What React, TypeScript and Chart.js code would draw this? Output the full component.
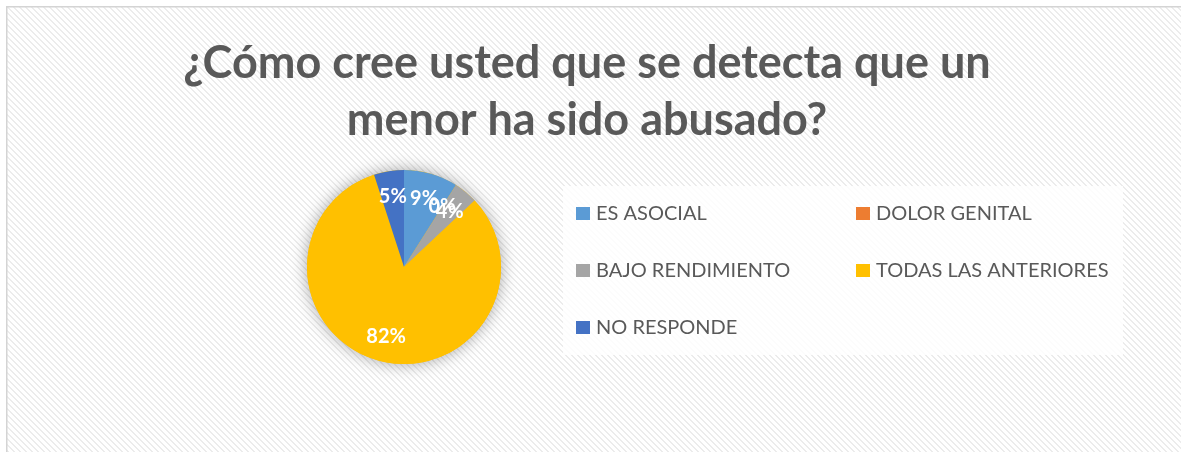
import React, { useEffect, useRef } from "react";
import { Chart, registerables } from "chart.js";

Chart.register(...registerables);

const TITLE_LINES = ["¿Cómo cree usted que se detecta que un", "menor ha sido abusado?"];
const CATEGORIES = ["ES ASOCIAL", "DOLOR GENITAL", "BAJO RENDIMIENTO", "TODAS LAS ANTERIORES", "NO RESPONDE"];
const VALUES = [9, 0, 4, 82, 5];
const COLORS = ["#5B9BD5", "#ED7D31", "#A5A5A5", "#FFC000", "#4472C4"];

const TEXT_COLOR = "#595959";

function makePattern(ctx: CanvasRenderingContext2D) {
  const c = document.createElement("canvas");
  const n = 6;
  c.width = n;
  c.height = n;
  const p = c.getContext("2d")!;
  p.fillStyle = "#ffffff";
  p.fillRect(0, 0, n, n);
  p.fillStyle = "#ececec";
  for (let y = 0; y < n; y++) {
    for (let x = 0; x < n; x++) {
      if ((x - y + n * 2) % n < 2) p.fillRect(x, y, 1, 1);
    }
  }
  return ctx.createPattern(c, "repeat");
}

const backgroundPlugin = {
  id: "bgDecor",
  beforeDraw(chart: any) {
    const ctx: CanvasRenderingContext2D = chart.ctx;
    const W = chart.width;
    const H = chart.height;
    ctx.save();
    ctx.fillStyle = "#ffffff";
    ctx.fillRect(0, 0, W, H);
    const pat = makePattern(ctx);
    if (pat) ctx.fillStyle = pat;
    ctx.fillRect(7, 7, W, H);
    ctx.strokeStyle = "#d4d4d4";
    ctx.lineWidth = 1.5;
    ctx.strokeRect(6.75, 6.75, W + 10, H + 10);

    // title
    ctx.fillStyle = TEXT_COLOR;
    ctx.font = "bold 45px Lato";
    ctx.textAlign = "center";
    ctx.textBaseline = "alphabetic";
    const cx = 587;
    ctx.fillText(TITLE_LINES[0], cx, 78);
    ctx.fillText(TITLE_LINES[1], cx, 135);

    // legend box
    ctx.fillStyle = "rgba(255,255,255,0.85)";
    ctx.fillRect(563, 186, 560, 169);

    const labels: string[] = chart.data.labels;
    const colors: string[] = chart.data.datasets[0].backgroundColor;
    ctx.font = "20px Lato";
    ctx.textAlign = "left";
    ctx.textBaseline = "middle";
    labels.forEach((lab, i) => {
      const col = i % 2;
      const row = Math.floor(i / 2);
      const x = col === 0 ? 576 : 856;
      const y = 213.5 + row * 57;
      ctx.fillStyle = colors[i];
      ctx.fillRect(x, y - 6.5, 14, 13);
      ctx.fillStyle = TEXT_COLOR;
      ctx.fillText(lab, x + 20, y + 0.5);
    });
    ctx.restore();
  },
  beforeDatasetsDraw(chart: any) {
    const el = chart.getDatasetMeta(0).data[0];
    if (!el) return;
    const ctx: CanvasRenderingContext2D = chart.ctx;
    ctx.save();
    ctx.shadowColor = "rgba(0,0,0,0.35)";
    ctx.shadowBlur = 16;
    ctx.fillStyle = "#FFC000";
    ctx.beginPath();
    ctx.arc(el.x, el.y, el.outerRadius, 0, Math.PI * 2);
    ctx.fill();
    ctx.restore();
  },
  afterDatasetsDraw(chart: any) {
    const ctx: CanvasRenderingContext2D = chart.ctx;
    const data: number[] = chart.data.datasets[0].data;
    const total = data.reduce((a, b) => a + b, 0);
    ctx.save();
    ctx.fillStyle = "#ffffff";
    ctx.font = "bold 20px Lato";
    ctx.textAlign = "center";
    ctx.textBaseline = "middle";
    chart.getDatasetMeta(0).data.forEach((el: any, i: number) => {
      const { x, y, startAngle, endAngle, outerRadius } = el.getProps(["x", "y", "startAngle", "endAngle", "outerRadius"], true);
      const mid = (startAngle + endAngle) / 2;
      const r = outerRadius * 0.74;
      const pct = Math.round((data[i] / total) * 100) + "%";
      ctx.fillText(pct, x + Math.cos(mid) * r, y + Math.sin(mid) * r);
    });
    ctx.restore();
  },
};

export default function App() {
  const ref = useRef<HTMLCanvasElement>(null);
  useEffect(() => {
    document.body.style.margin = "0";
    const chart = new Chart(ref.current!, {
      type: "pie",
      data: {
        labels: CATEGORIES,
        datasets: [
          {
            data: VALUES,
            backgroundColor: COLORS,
            borderWidth: 0,
          },
        ],
      },
      options: {
        animation: false,
        responsive: true,
        maintainAspectRatio: false,
        layout: { padding: { left: 307, right: 680, top: 170, bottom: 88 } },
        plugins: { legend: { display: false }, tooltip: { enabled: false }, title: { display: false } },
      },
      plugins: [backgroundPlugin],
    });
    return () => chart.destroy();
  }, []);
  return (
    <div style={{ width: 1181, height: 452, position: "relative" }}>
      <canvas ref={ref} />
    </div>
  );
}
